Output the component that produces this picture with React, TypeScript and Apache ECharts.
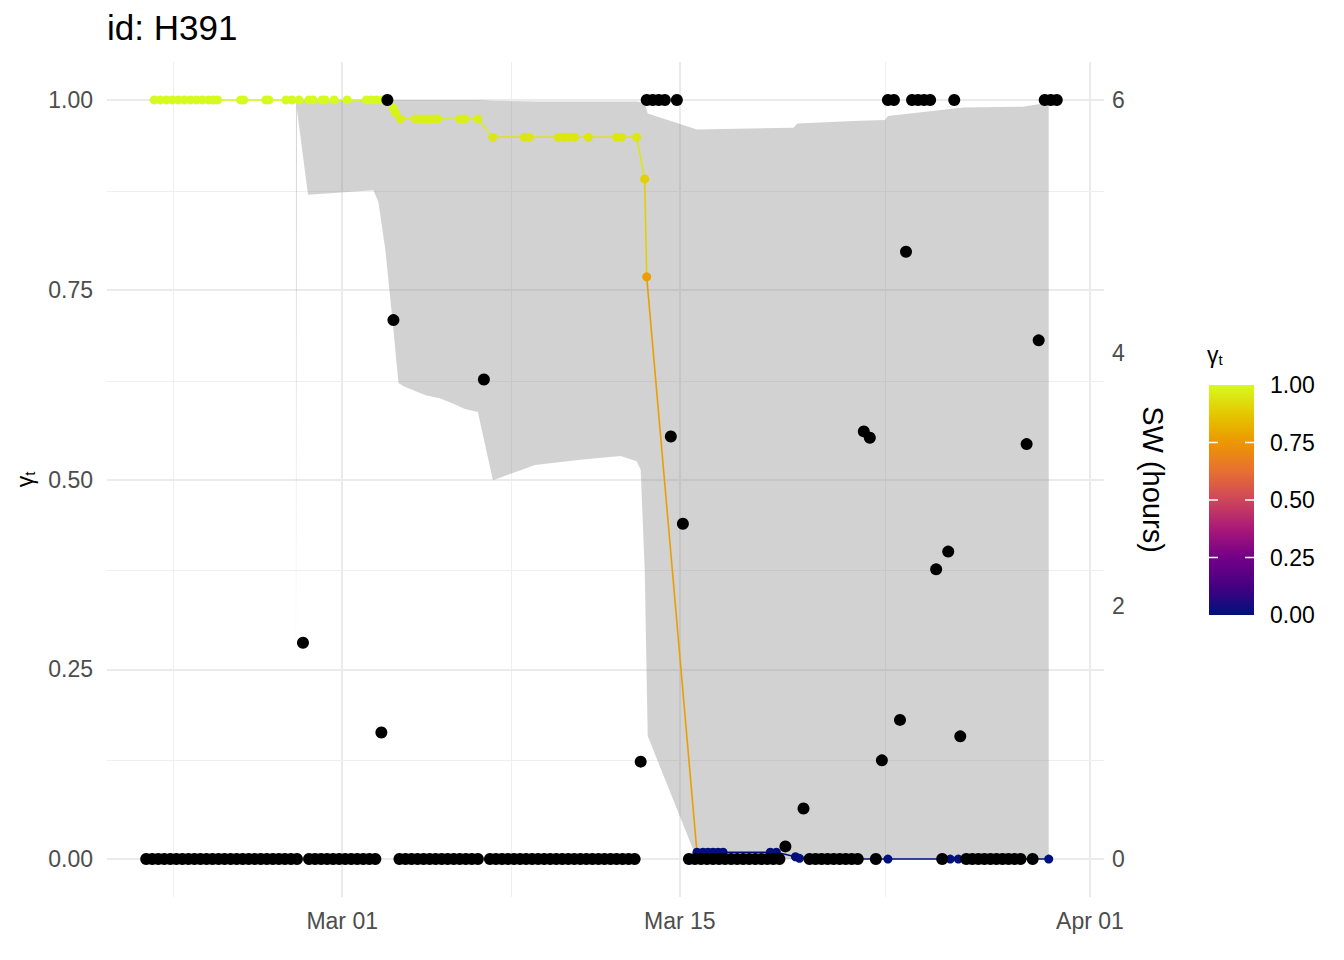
import React, { useEffect, useRef } from 'react';
import * as echarts from 'echarts';

// ---------------- data ----------------
const YEAR = 2021;
const plotTitle = 'id: H391';
const xBreaks = ['03-01 00:00', '03-15 00:00', '04-01 00:00'];
const xBreakLabels = ['Mar 01', 'Mar 15', 'Apr 01'];
const xMinorBreaks = ['02-22 00:00', '03-08 00:00', '03-23 12:00'];
const xLimits = ['02-19 06:00', '04-01 14:00'];
const yBreaks = [0, 0.25, 0.5, 0.75, 1];
const yMinorBreaks = [0.125, 0.375, 0.625, 0.875];
const yLimits = [-0.05, 1.05];
const swBreaks = [0, 2, 4, 6];
const swLimits = [-0.3, 6.3];
const legendBreaks = [0, 0.25, 0.5, 0.75, 1];

// SW (hours), sampled every 6 hours from swStart
const swStart = '02-20 21:00';
const swStepHours = 6;
const swHours: (number | null)[] = [
  0, 0, 0, 0, 0, 0, 0, 0, 0, 0, 0, 0, 0, 0, 0, 0, 0, 0, 0, 0, 0, 0, 0, 0, 0, 0,
  1.71,
  0, 0, 0, 0, 0, 0, 0, 0, 0, 0, 0, 0,
  1.0, 6, 4.26,
  0, 0, 0, 0, 0, 0, 0, 0, 0, 0, 0, 0, 0, 0,
  3.79,
  0, 0, 0, 0, 0, 0, 0, 0, 0, 0, 0, 0, 0, 0, 0, 0, 0, 0, 0, 0, 0, 0, 0, 0, 0,
  0.77, 6, 6, 6, 6, 3.34, 6, 2.65,
  0, 0, 0, 0, 0, 0, 0, 0, 0, 0, 0, 0, 0, 0, 0, 0,
  0.10, null, null, 0.40,
  0, 0, 0, 0, 0, 0, 0, 0, 0,
  3.38, 3.33, 0, 0.78, 6, 6, 1.10, 4.80, 6, 6, 6, 6, 2.29, 0, 2.43, 6, 0.97,
  0, 0, 0, 0, 0, 0, 0, 0, 0, 0,
  3.28, 0, 4.10, 6, 6, 6,
];

// gamma_t estimates
const gammaTime = [
  '02-21 05:00', '02-21 11:00', '02-21 17:00', '02-21 23:00', '02-22 05:00', '02-22 11:00',
  '02-22 17:00', '02-22 23:00', '02-23 05:00', '02-23 11:00', '02-23 16:00', '02-23 20:00',
  '02-24 19:00', '02-24 22:00', '02-25 20:00', '02-25 23:00', '02-26 16:00', '02-26 22:00',
  '02-27 05:00', '02-27 15:00', '02-27 19:00', '02-28 04:00', '02-28 07:00', '02-28 16:00',
  '03-01 05:00', '03-02 00:00', '03-02 05:00', '03-02 10:00', '03-02 16:00', '03-02 21:00',
  '03-03 03:00', '03-03 05:00', '03-03 10:00', '03-04 01:00', '03-04 06:00', '03-04 11:00',
  '03-04 16:00', '03-04 20:00', '03-04 23:00', '03-05 21:00', '03-06 02:00', '03-06 15:00',
  '03-07 06:00', '03-08 13:00', '03-08 18:00', '03-09 23:00', '03-10 04:00', '03-10 09:00',
  '03-10 15:00', '03-11 05:00', '03-12 09:00', '03-12 14:00', '03-13 05:00', '03-13 13:00',
  '03-13 15:00', '03-15 17:00', '03-15 23:00', '03-16 04:00', '03-16 09:00', '03-16 14:00',
  '03-16 19:00', '03-18 18:00', '03-19 00:00', '03-19 19:00', '03-19 23:00', '03-21 05:00',
  '03-22 01:00', '03-23 15:00', '03-26 05:00', '03-26 13:00', '03-27 21:00', '03-30 07:00',
];
const gammaValue = [
  1, 1, 1, 1, 1, 1,
  1, 1, 1, 1, 1, 1,
  1, 1, 1, 1, 1, 1,
  1, 1, 1, 1, 1, 1,
  1, 1, 1, 1, 1, 1,
  0.989, 0.983, 0.975, 0.975, 0.975, 0.975,
  0.975, 0.975, 0.975, 0.975, 0.975, 0.975,
  0.951, 0.951, 0.951, 0.951, 0.951, 0.951,
  0.951, 0.951, 0.951, 0.951, 0.951, 0.896,
  0.767, 0.009, 0.009, 0.009, 0.009, 0.009,
  0.009, 0.009, 0.009, 0.003, 0.001, 0,
  0, 0, 0, 0, 0, 0,
];

// credible band of gamma_t
const ribbonTime = [
  '02-27 02:00', '02-27 03:00', '02-27 14:00', '03-02 07:00', '03-02 12:00', '03-02 19:00',
  '03-03 03:00', '03-03 08:00', '03-03 13:00', '03-04 11:00', '03-05 01:00', '03-05 16:00',
  '03-06 02:00', '03-06 15:00', '03-07 06:00', '03-09 00:00', '03-10 21:00', '03-12 13:00',
  '03-13 05:00', '03-13 09:00', '03-13 13:00', '03-13 16:00', '03-15 17:00', '03-19 17:00',
  '03-19 21:00', '03-22 11:00', '03-23 12:00', '03-23 15:00', '03-26 18:00', '03-29 05:00',
  '03-30 05:00', '03-30 07:00',
];
const ribbonLow = [
  0.25, 0.987, 0.875, 0.881, 0.866, 0.802,
  0.697, 0.627, 0.623, 0.611, 0.607, 0.599,
  0.593, 0.589, 0.499, 0.519, 0.526, 0.531,
  0.524, 0.513, 0.381, 0.162, 0, 0,
  0, 0, 0, 0, 0, 0,
  0, 0,
];
const ribbonHigh = [
  1, 1, 1, 1, 1, 1,
  1, 1, 1, 1, 1, 1,
  1, 1, 0.999, 0.998, 0.998, 0.998,
  0.998, 0.997, 0.996, 0.982, 0.961, 0.9635,
  0.969, 0.9727, 0.9735, 0.979, 0.99, 0.991,
  0.996, 1,
];

// colour scale for gamma_t (evenly spaced stops from 0 to 1)
const gammaColours = ['#00107C', '#460082', '#730087', '#AA1978', '#CD465A', '#E86F32', '#EC9700', '#E4C800', '#D6FA1E'];

// ---------------- helpers ----------------
const FONT = '"Liberation Sans", Arial, Helvetica, sans-serif';
const ts = (s: string) => {
  const [md, hm] = s.split(' ');
  const [mo, d] = md.split('-').map(Number);
  const [h, mi] = hm.split(':').map(Number);
  return Date.UTC(YEAR, mo - 1, d, h, mi);
};
const hexToRgb = (h: string) => [1, 3, 5].map((k) => parseInt(h.slice(k, k + 2), 16));
const colourAt = (v: number) => {
  const n = gammaColours.length - 1;
  const x = Math.max(0, Math.min(1, v)) * n;
  const i = Math.min(n - 1, Math.floor(x));
  const f = x - i;
  const a = hexToRgb(gammaColours[i]);
  const b = hexToRgb(gammaColours[i + 1]);
  const c = a.map((ai, k) => Math.round(ai + (b[k] - ai) * f));
  return `rgb(${c[0]},${c[1]},${c[2]})`;
};

export default function App() {
  const ref = useRef<HTMLDivElement>(null);

  useEffect(() => {
    if (!ref.current) return;
    const chart = echarts.init(ref.current, undefined, { renderer: 'svg' });

    const swStartTs = ts(swStart);
    const swData: [number, number][] = [];
    swHours.forEach((v, i) => {
      if (v !== null) swData.push([swStartTs + i * swStepHours * 3600e3, v]);
    });
    const gammaData = gammaTime.map((t, i) => [ts(t), gammaValue[i]]);
    const segData = gammaData.slice(0, -1).map((p, i) => [p[0], p[1], gammaData[i + 1][0], gammaData[i + 1][1]]);
    const ribbonData = ribbonTime.map((t, i) => [ts(t), ribbonLow[i], ribbonHigh[i]]);
    const xBreakTs = xBreaks.map(ts);

    const major = { color: '#EBEBEB', width: 2, type: 'solid' };
    const minor = { color: '#EFEFEF', width: 1, type: 'solid' };

    // legend geometry
    const lgX = 1209, lgW = 45, lgTop = 385, lgH = 230;
    const lgY = (v: number) => lgTop + (1 - v) * lgH;
    const rich = {
      g: { fontSize: 23, fontFamily: FONT, color: '#000' },
      s: { fontSize: 15, fontFamily: FONT, color: '#000', padding: [10, 0, 0, 0] },
    };

    const legendChildren: any[] = [
      {
        type: 'rect',
        shape: { x: lgX, y: lgTop, width: lgW, height: lgH },
        style: {
          fill: new echarts.graphic.LinearGradient(0, 0, 0, 1,
            gammaColours.map((c, k) => ({ offset: 1 - k / (gammaColours.length - 1), color: c })).reverse()),
        },
      },
      {
        type: 'text',
        x: 1207,
        y: 342,
        style: { text: '{g|γ}{s|t}', rich },
      },
    ];
    legendBreaks.forEach((v) => {
      const y = lgY(v);
      if (v > 0 && v < 1) {
        legendChildren.push({ type: 'line', shape: { x1: lgX, y1: y, x2: lgX + 9, y2: y }, style: { stroke: '#fff', lineWidth: 1.5 } });
        legendChildren.push({ type: 'line', shape: { x1: lgX + lgW - 9, y1: y, x2: lgX + lgW, y2: y }, style: { stroke: '#fff', lineWidth: 1.5 } });
      }
      legendChildren.push({
        type: 'text', x: 1270, y,
        style: { text: v.toFixed(2), fontSize: 23, fontFamily: FONT, fill: '#000', verticalAlign: 'middle', align: 'left' },
      });
    });

    const option: any = {
      animation: false,
      backgroundColor: '#ffffff',
      title: {
        text: plotTitle,
        left: 107,
        top: 10,
        padding: 0,
        textStyle: { fontSize: 35, fontWeight: 'normal', color: '#000', fontFamily: FONT },
      },
      grid: { left: 107, right: 240, top: 62, bottom: 63, containLabel: false },
      xAxis: {
        type: 'value',
        min: ts(xLimits[0]),
        max: ts(xLimits[1]),
        axisLine: { show: false },
        axisTick: { show: false },
        splitLine: { show: false },
        axisLabel: {
          customValues: xBreakTs,
          formatter: (v: number) => {
            const i = xBreakTs.findIndex((t) => Math.abs(t - v) < 3600e3);
            return i >= 0 ? xBreakLabels[i] : '';
          },
          fontSize: 23, color: '#4D4D4D', fontFamily: FONT, margin: 12,
        },
      },
      yAxis: [
        {
          type: 'value',
          min: yLimits[0],
          max: yLimits[1],
          axisLine: { show: false },
          axisTick: { show: false },
          splitLine: { show: false },
          axisLabel: {
            customValues: yBreaks,
            formatter: (v: number) => v.toFixed(2),
            fontSize: 23, color: '#4D4D4D', fontFamily: FONT, margin: 14,
          },
          name: '{g|γ}{s|t}',
          nameLocation: 'middle',
          nameRotate: 90,
          nameGap: 66,
          nameTextStyle: { rich },
        },
        {
          type: 'value',
          position: 'right',
          min: swLimits[0],
          max: swLimits[1],
          axisLine: { show: false },
          axisTick: { show: false },
          splitLine: { show: false },
          axisLabel: {
            customValues: swBreaks,
            formatter: (v: number) => String(v),
            fontSize: 23, color: '#4D4D4D', fontFamily: FONT, margin: 8,
          },
          name: 'SW (hours)',
          nameLocation: 'middle',
          nameRotate: -90,
          nameGap: 34,
          nameTextStyle: { fontSize: 29, color: '#000', fontFamily: FONT },
        },
      ],
      graphic: [{ type: 'group', children: legendChildren }],
      series: [
        {
          type: 'line',
          data: [],
          z: 0,
          silent: true,
          markLine: {
            z: 0,
            silent: true,
            symbol: ['none', 'none'],
            label: { show: false },
            animation: false,
            data: [
              ...xBreaks.map((t) => ({ xAxis: ts(t), lineStyle: major })),
              ...xMinorBreaks.map((t) => ({ xAxis: ts(t), lineStyle: minor })),
              ...yBreaks.map((v) => ({ yAxis: v, lineStyle: major })),
              ...yMinorBreaks.map((v) => ({ yAxis: v, lineStyle: minor })),
            ],
          },
        },
        {
          type: 'custom',
          z: 1,
          silent: true,
          data: ribbonData,
          encode: { x: 0, y: [1, 2] },
          renderItem: (params: any, api: any) => {
            if (params.dataIndex !== 0) return { type: 'group', children: [] };
            const upper = ribbonData.map((d) => api.coord([d[0], d[2]]));
            const lower = ribbonData.map((d) => api.coord([d[0], d[1]])).reverse();
            return {
              type: 'polygon',
              shape: { points: upper.concat(lower) },
              style: { fill: 'rgba(127,127,127,0.35)', stroke: 'none' },
            };
          },
        },
        {
          type: 'custom',
          z: 2,
          silent: true,
          data: segData,
          encode: { x: [0, 2], y: [1, 3] },
          renderItem: (params: any, api: any) => {
            const p1 = api.coord([api.value(0), api.value(1)]);
            const p2 = api.coord([api.value(2), api.value(3)]);
            return {
              type: 'line',
              shape: { x1: p1[0], y1: p1[1], x2: p2[0], y2: p2[1] },
              style: { stroke: colourAt(api.value(1)), lineWidth: 1.6 },
            };
          },
        },
        {
          type: 'scatter',
          z: 3,
          silent: true,
          data: gammaData,
          symbolSize: 9,
          itemStyle: { color: (p: any) => colourAt(p.value[1]), opacity: 1 },
        },
        {
          type: 'scatter',
          z: 4,
          silent: true,
          yAxisIndex: 1,
          data: swData,
          symbolSize: 12,
          itemStyle: { color: '#000000', opacity: 1 },
        },
      ],
    };

    chart.setOption(option);
    return () => chart.dispose();
  }, []);

  return (
    <div
      ref={ref}
      style={{ position: 'fixed', left: 0, top: 0, width: 1344, height: 960, background: '#fff' }}
    />
  );
}
